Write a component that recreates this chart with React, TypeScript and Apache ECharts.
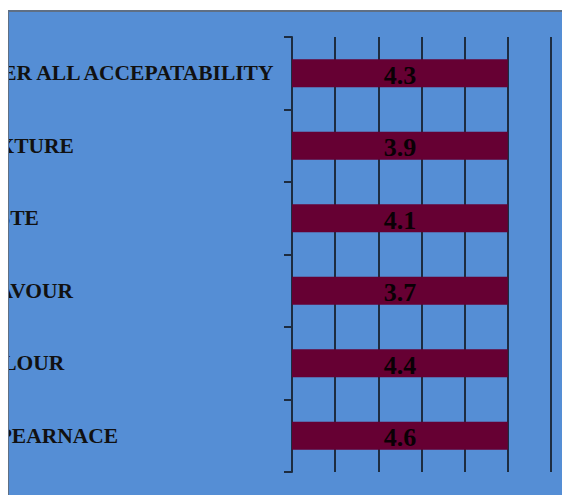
import React, { useEffect, useRef } from "react";
import * as echarts from "echarts";

// Sensory attributes, listed bottom-to-top as the category axis draws them
const attributes = [
  "APPEARNACE",
  "COLOUR",
  "FLAVOUR",
  "TASTE",
  "TEXTURE",
  "OVER ALL ACCEPATABILITY",
];

// Mean sensory scores for each attribute
const meanScores = [4.6, 4.4, 3.7, 4.1, 3.9, 4.3];

// All series of the 100% stacked bar (a single one here)
const stackedSeries = [{ name: "Mean score", values: meanScores }];

// Share (in %) each series takes of its category's stack
const stackTotals = attributes.map((_, i) =>
  stackedSeries.reduce((sum, s) => sum + s.values[i], 0)
);
const percentOf = (values: number[]) =>
  values.map((v, i) => (v / stackTotals[i]) * 100);

export default function App() {
  const ref = useRef<HTMLDivElement>(null);

  useEffect(() => {
    if (!ref.current) return;
    const chart = echarts.init(ref.current, null, { renderer: "svg" });
    const lineColor = "#1d2c40";
    chart.setOption({
      animation: false,
      backgroundColor: "#558ed5",
      grid: {
        left: 283,
        right: 19,
        top: 25,
        bottom: 23,
        containLabel: false,
        outerBoundsMode: "none",
      },
      xAxis: {
        type: "value",
        min: 0,
        max: 120,
        interval: 20,
        axisLine: { show: false },
        axisTick: { show: false },
        axisLabel: { show: false },
        splitLine: { show: true, lineStyle: { color: lineColor, width: 2 } },
      },
      yAxis: {
        type: "category",
        data: attributes,
        axisLine: { show: true, lineStyle: { color: lineColor, width: 2 } },
        axisTick: { show: true, inside: false, length: 8, lineStyle: { color: lineColor, width: 2 } },
        splitLine: { show: false },
        axisLabel: {
          // left-aligned labels in a wide column that starts past the frame's left edge
          align: "left",
          margin: 322,
          color: "#111111",
          fontFamily: "Liberation Serif, Times New Roman, serif",
          fontWeight: "bold",
          fontSize: 21.5,
        },
      },
      series: stackedSeries.map((s) => ({
        type: "bar",
        name: s.name,
        stack: "total",
        barWidth: 28,
        itemStyle: { color: "#660033" },
        data: percentOf(s.values).map((p, i) => ({ value: p, score: s.values[i] })),
        label: {
          show: true,
          position: "inside",
          offset: [0, 2],
          formatter: (p: any) => p.data.score.toFixed(1),
          color: "#0a0005",
          fontFamily: "Liberation Serif, Times New Roman, serif",
          fontWeight: "bold",
          fontSize: 26,
        },
      })),
    });
    return () => chart.dispose();
  }, []);

  return (
    <div
      style={{
        marginLeft: -1,
        marginTop: 2,
        width: 563,
        height: 485,
        boxSizing: "border-box",
        borderTop: "2px solid #5f6f84",
        borderLeft: "2px solid #5f6f84",
        overflow: "hidden",
      }}
    >
      <div ref={ref} style={{ width: 561, height: 483 }} />
    </div>
  );
}
